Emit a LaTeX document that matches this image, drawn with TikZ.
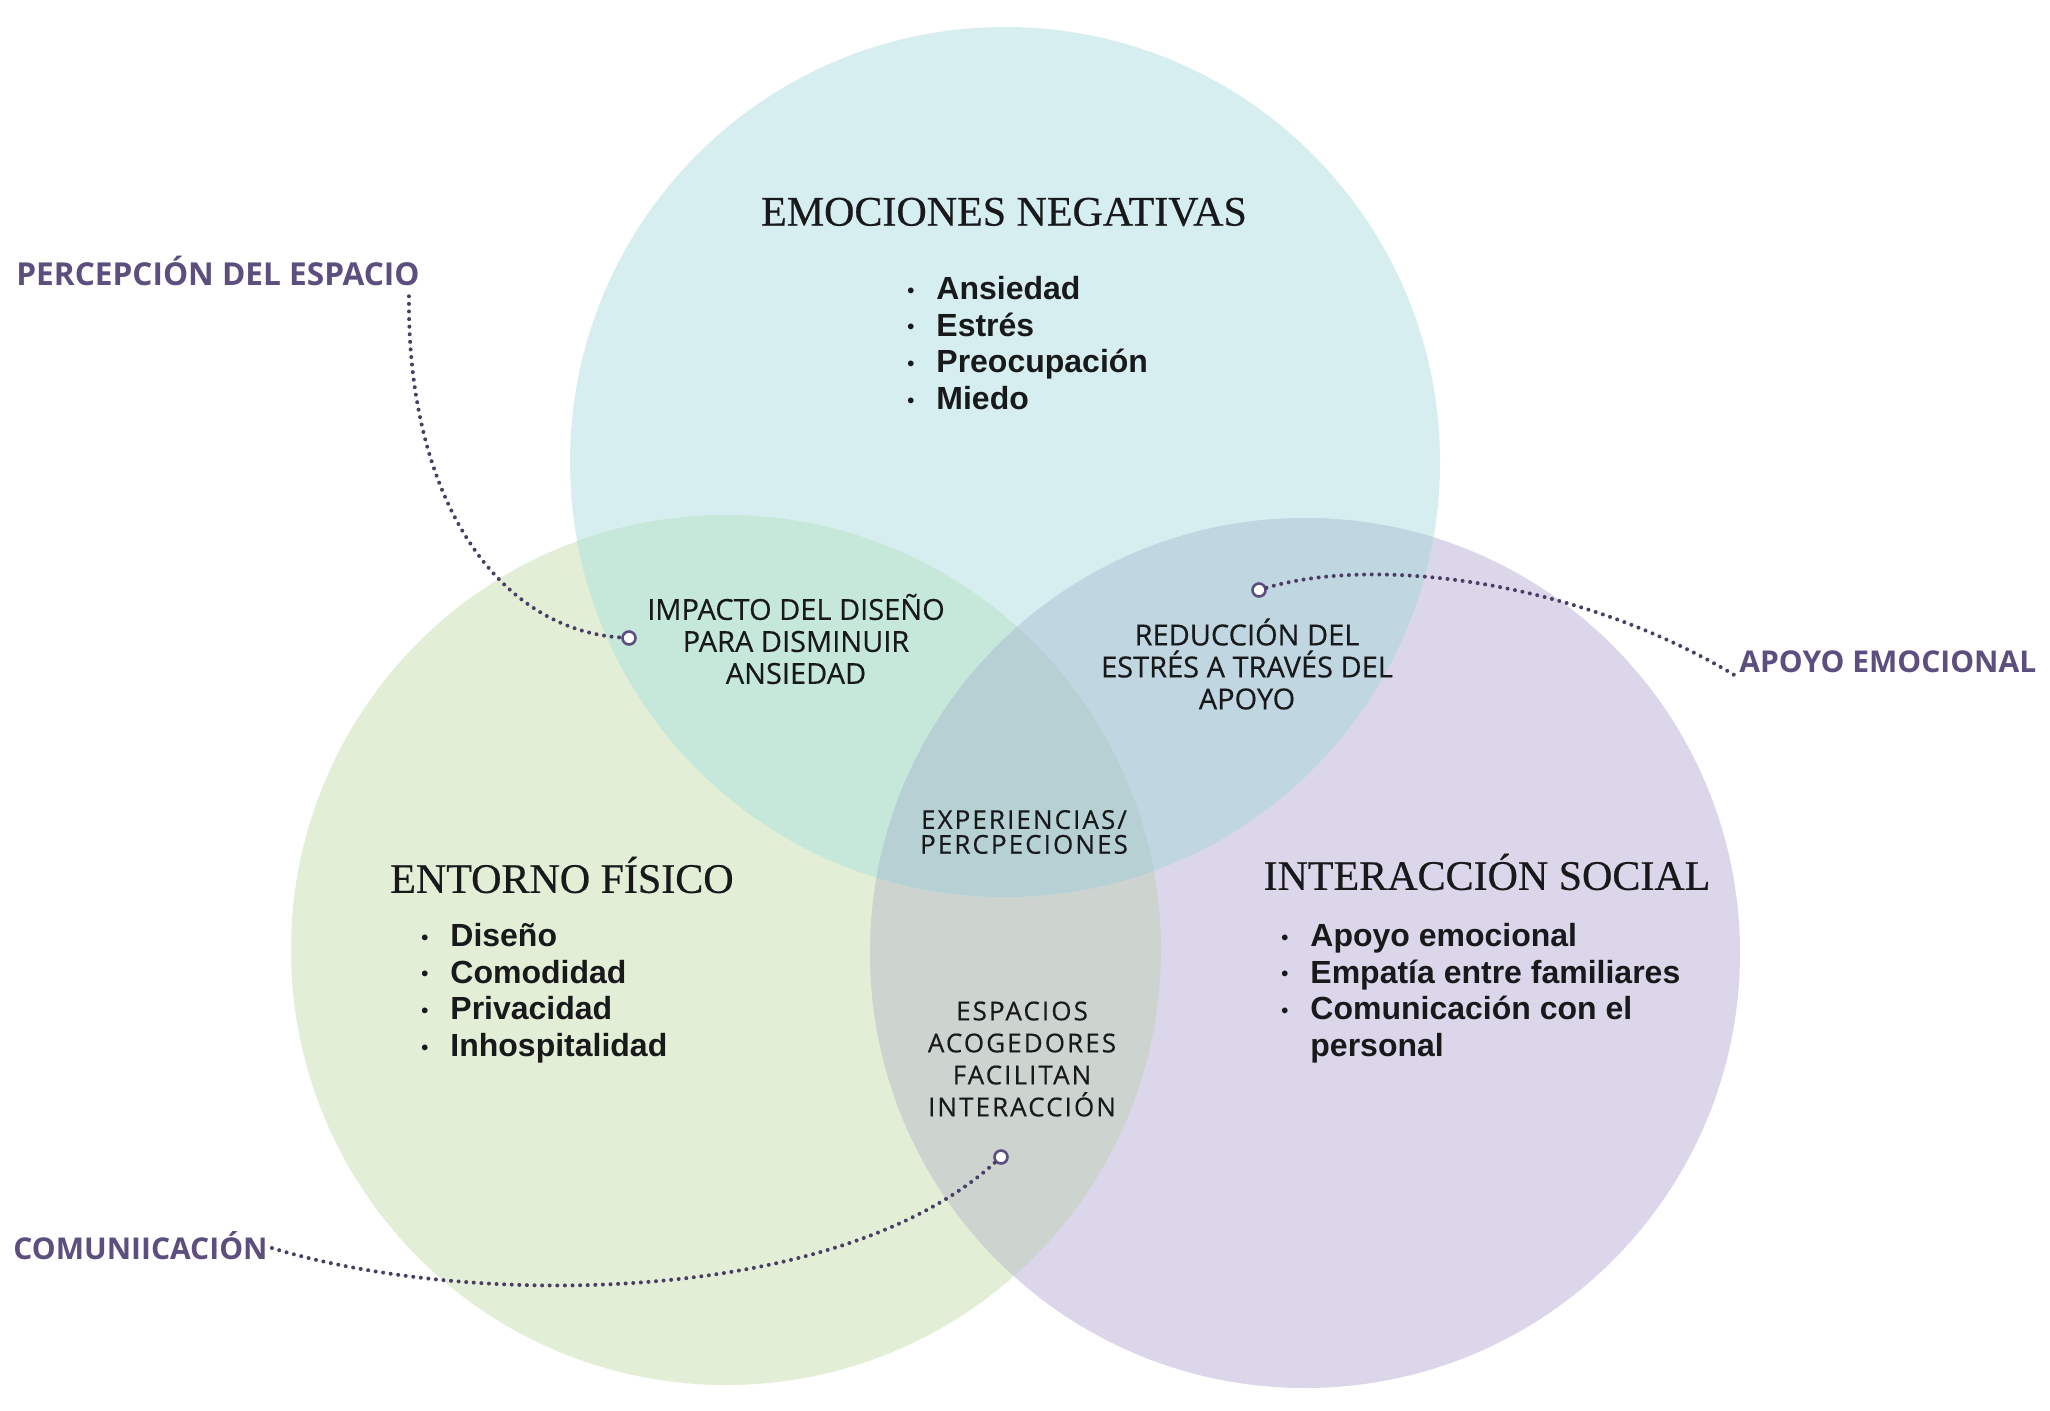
\documentclass[tikz,border=0pt]{standalone}
\usepackage{fontspec}
\setmainfont{Liberation Serif}
\newfontfamily\listfont{Liberation Sans}
\newfontfamily\zonefont{Open Sans}
\newfontfamily\zonewide[LetterSpace=8]{Open Sans}
\usetikzlibrary{positioning}
\definecolor{vnblue}{HTML}{D7EEF0}
\definecolor{vngreen}{HTML}{E3EED6}
\definecolor{vnlilac}{HTML}{DCD6EA}
\definecolor{vnbg}{HTML}{C6E8DA}
\definecolor{vnbp}{HTML}{C0D6E0}
\definecolor{vngp}{HTML}{CDD4CF}
\definecolor{vnall}{HTML}{B7D0D4}
\definecolor{vnplum}{HTML}{5C4E7E}
\definecolor{vnink}{HTML}{17191B}
\newcommand{\blt}{\makebox[14.5pt][l]{\fontsize{10}{10}\selectfont\raisebox{1.2pt}{•}}}

\begin{document}
\begin{tikzpicture}[x=0.5pt,y=-0.5pt,
 venn/.style={circle,minimum size=435pt,inner sep=0pt},
 ttl/.style={font=\addfontfeature{FakeBold=0.5}\fontsize{21}{24}\selectfont,text=vnink},
 blist/.style={font=\listfont\bfseries\fontsize{16}{18.3}\selectfont,align=left,inner sep=0pt,anchor=north west,text=vnink},
 zone/.style={font=\zonefont\addfontfeature{FakeBold=0.4}\fontsize{14.5}{16}\selectfont,align=center,text=vnink},
 tag/.style={font=\zonefont\bfseries\fontsize{15}{18}\selectfont,text=vnplum,inner sep=2pt,anchor=west},
 pin/.style={circle,draw=vnplum,fill=white,line width=1.3pt,minimum size=6.5pt,inner sep=0pt},
 leader/.style={vnplum!80!black,line width=2pt,line cap=round,dash pattern=on 0pt off 3.8pt}]
\useasboundingbox (0,0) rectangle (2050,1410);
\fill[white] (0,0) rectangle (2050,1410);
% the three sets
\node[venn,fill=vnblue] (emo) at (1005,462) {};
\node[venn,fill=vngreen] (ent) at (726,950) {};
\node[venn,fill=vnlilac] (inter) at (1305,953) {};
% overlaps
\begin{scope}
\clip (ent.center) circle[radius=217.5pt];
\fill[vngp] (inter.center) circle[radius=217.5pt];
\end{scope}
\begin{scope}
\clip (emo.center) circle[radius=217.5pt];
\fill[vnbg] (ent.center) circle[radius=217.5pt];
\fill[vnbp] (inter.center) circle[radius=217.5pt];
\clip (ent.center) circle[radius=217.5pt];
\fill[vnall] (inter.center) circle[radius=217.5pt];
\end{scope}
\node[ttl] (emoT) at (1004,212) {EMOCIONES NEGATIVAS};
\node[ttl] (entT) at (562,875) {ENTORNO FÍSICO};
\node[ttl] (interT) at (1487,872) {INTERACCIÓN SOCIAL};
\node[blist] (emoL) at (907,276) {\blt Ansiedad\\\blt Estrés\\\blt Preocupación\\\blt Miedo};
\node[blist] (entL) at (421,923) {\blt Diseño\\\blt Comodidad\\\blt Privacidad\\\blt Inhospitalidad};
\node[blist] (interL) at (1281,923) {\blt Apoyo emocional\\\blt Empatía entre familiares\\\blt Comunicación con el\\\hspace*{14.5pt}personal};
% overlaps text
\node[zone] (impact) at (796,639) {IMPACTO DEL DISEÑO\\PARA DISMINUIR\\ANSIEDAD};
\node[zone] (reduc) at (1247,664) {REDUCCIÓN DEL\\ESTRÉS A TRAVÉS DEL\\APOYO};
\node[zone,font=\zonewide\addfontfeature{FakeBold=0.4}\fontsize{13}{12.4}\selectfont] (exper) at (1024,832) {EXPERIENCIAS/\\PERCPECIONES};
\node[zone,font=\zonewide\addfontfeature{FakeBold=0.4}\fontsize{13}{16}\selectfont] (espac) at (1022,1059) {ESPACIOS\\ACOGEDORES\\FACILITAN\\INTERACCIÓN};
% outside tags
\node[tag,font=\zonefont\bfseries\fontsize{15.8}{18}\selectfont] (percep) at (12,271) {PERCEPCIÓN DEL ESPACIO};
\node[tag] (apoyo) at (1735,662) {APOYO EMOCIONAL};
\node[tag] (comun) at (9,1246) {COMUNIICACIÓN};
\node[pin] (pinImp) at (629,638) {};
\node[pin] (pinRed) at (1259,590) {};
\node[pin] (pinEsp) at (1001,1157) {};
\draw[leader] ([xshift=-7.5pt,yshift=-3pt]percep.south east) .. controls +(-2,206) and +(-129,-8) .. (pinImp);
\draw[leader] (pinRed) .. controls +(114,-34) and +(-159,-96) .. ([yshift=1pt]apoyo.south west);
\draw[leader] ([yshift=-1pt]comun.east) .. controls +(196,60) and +(-164,150) .. (pinEsp);
\end{tikzpicture}
\end{document}
